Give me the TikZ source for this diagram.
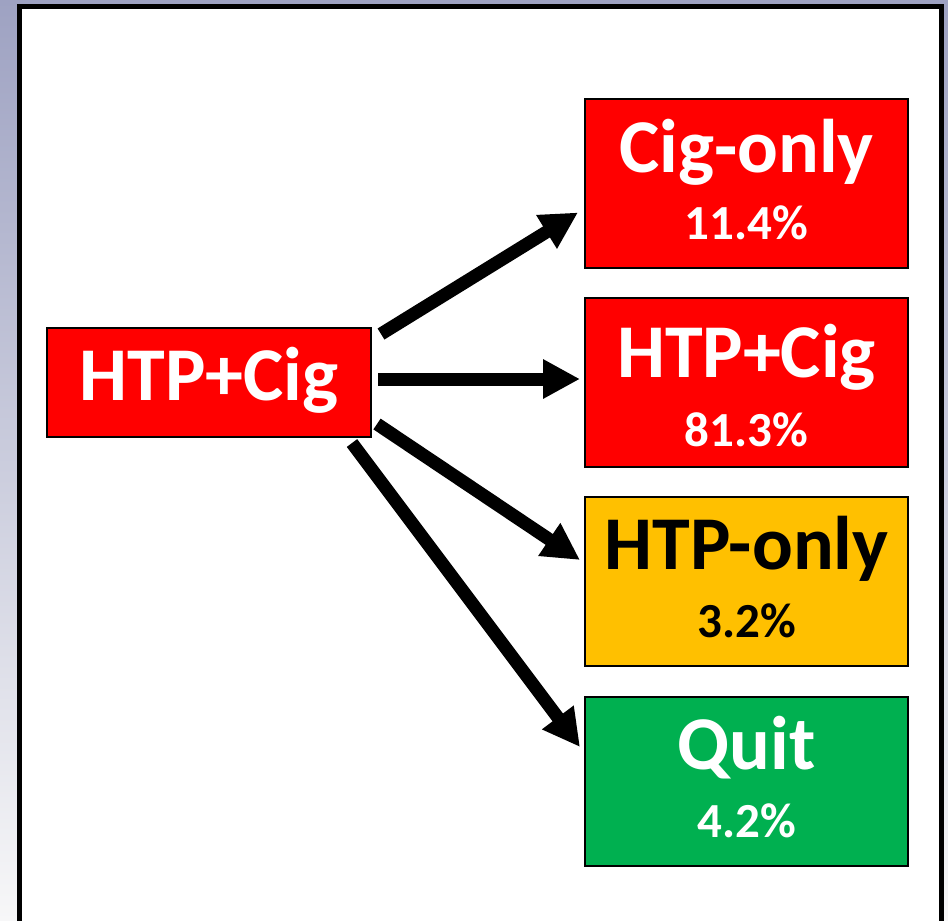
\documentclass[tikz,border=0pt]{standalone}
\usepackage{fontspec}
\setmainfont{Carlito}
\usetikzlibrary{arrows.meta}
\definecolor{bgtop}{RGB}{158,162,194}
\definecolor{bgmid}{RGB}{222,222,230}
\definecolor{bgbot}{RGB}{247,247,248}
\definecolor{boxred}{RGB}{255,0,0}
\definecolor{boxyellow}{RGB}{255,192,0}
\definecolor{boxgreen}{RGB}{0,176,80}
\tikzset{
  box/.style={draw=black, line width=2pt, inner sep=0pt, minimum width=323pt, minimum height=169pt},
  bigtxt/.style={anchor=base, inner sep=0pt, font=\fontsize{76}{80}\selectfont\bfseries},
  smalltxt/.style={anchor=base, inner sep=0pt, font=\fontsize{49}{52}\selectfont\bfseries},
  arr/.style={line width=13pt, -{Triangle[length=37pt,width=37pt]}}
}
\begin{document}
\begin{tikzpicture}[x=1pt,y=-1pt]
\useasboundingbox (0,0) rectangle (948,921);
\shade[top color=bgtop, middle color=bgmid, bottom color=bgbot] (0,0) rectangle (948,921);
\draw[line width=5pt, fill=white] (19.5,930) -- (19.5,6.5) -- (941.5,6.5) -- (941.5,930);
% source
\node[box, fill=boxred, minimum width=324pt, minimum height=109pt] (a) at (209,382.5) {};
\node[bigtxt, text=white] (at) at (209,400) {HTP+Cig};
% targets
\node[box, fill=boxred] (b1) at (746.5,183) {};
\node[bigtxt, text=white] (b1t) at (746.5,172) {Cig-only};
\node[smalltxt, text=white] (b1p) at (746.5,239) {11.4\%};
\node[box, fill=boxred] (b2) at (746.5,382.5) {};
\node[bigtxt, text=white] (b2t) at (746.5,377) {HTP+Cig};
\node[smalltxt, text=white] (b2p) at (746.5,446) {81.3\%};
\node[box, fill=boxyellow] (b3) at (746.5,581.5) {};
\node[bigtxt, text=black] (b3t) at (746.5,569) {HTP-only};
\node[smalltxt, text=black] (b3p) at (746.5,637) {3.2\%};
\node[box, fill=boxgreen] (b4) at (746.5,781.5) {};
\node[bigtxt, text=white] (b4t) at (746.5,769) {Quit};
\node[smalltxt, text=white] (b4p) at (746.5,837) {4.2\%};
% arrows
\draw[arr] ([shift={(9,7)}]a.north east) -- ([shift={(-6,-56)}]b1.south west);
\draw[arr] ([shift={(6,-3.5)}]a.east) -- ([shift={(-4,-3.5)}]b2.west);
\draw[arr] ([shift={(5,-14)}]a.south east) -- ([shift={(-4,-21.5)}]b3.west);
\draw[arr] ([shift={(-20,5)}]a.south east) -- ([shift={(-4,51)}]b4.north west);
\end{tikzpicture}
\end{document}
